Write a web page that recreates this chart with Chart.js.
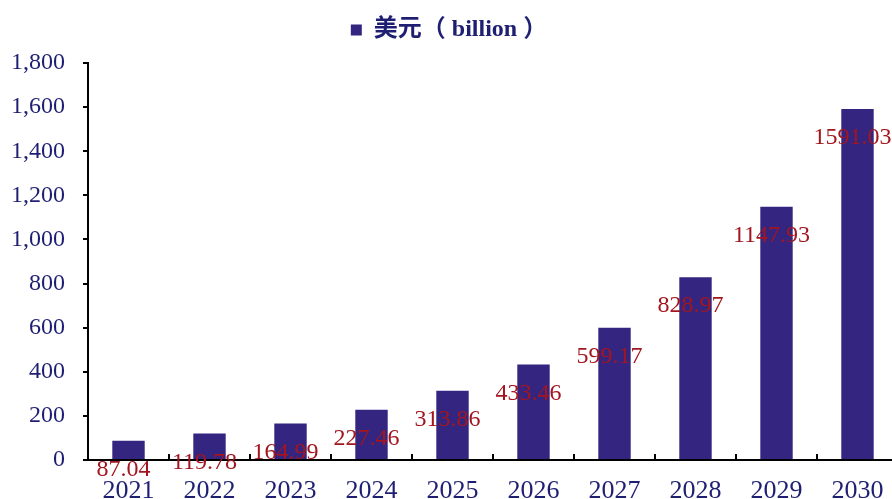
<!DOCTYPE html>
<html lang="zh">
<head>
    <meta charset="UTF-8">
    <title>美元（billion）</title>
    <script src="https://cdn.jsdelivr.net/npm/chart.js"></script>
    <style>
        html, body { margin: 0; padding: 0; overflow: hidden; background: #fff; }
        #wrap { width: 900px; height: 499px; }
    </style>
</head>
<body>
<div id="wrap">
    <canvas id="salesChart" width="900" height="499"></canvas>
</div>

<script>
    const years = ["2021", "2022", "2023", "2024", "2025", "2026", "2027", "2028", "2029", "2030"];
    const usdBillion = [87.04, 119.78, 164.99, 227.46, 313.86, 433.46, 599.17, 828.97, 1147.93, 1591.03];
    const seriesName = "美元（ billion ）";
    const yMax = 1800;
    const yStep = 200;

    const barColor = '#332580';
    const labelColor = '#a3161f';
    const tickColor = '#1e1e72';
    const serif = "'Liberation Serif', 'Times New Roman', 'Noto Sans CJK SC', serif";

    // red value labels sitting just under the top of each bar
    const valueLabels = {
        id: 'valueLabels',
        afterDatasetsDraw(chart) {
            const ctx = chart.ctx;
            const meta = chart.getDatasetMeta(0);
            ctx.save();
            ctx.font = '24px ' + serif;
            ctx.fillStyle = labelColor;
            ctx.textAlign = 'center';
            ctx.textBaseline = 'middle';
            meta.data.forEach((bar, i) => {
                ctx.fillText(usdBillion[i].toFixed(2), bar.x - 5, bar.y + 29);
            });
            ctx.restore();
        }
    };

    // small inward tick marks between categories on the x axis
    const innerTicks = {
        id: 'innerTicks',
        afterDraw(chart) {
            const x = chart.scales.x;
            const ctx = chart.ctx;
            const step = x.getPixelForValue(1) - x.getPixelForValue(0);
            ctx.save();
            ctx.strokeStyle = '#000';
            ctx.lineWidth = 2;
            for (let i = 1; i <= years.length; i++) {
                const px = x.getPixelForValue(i) - step / 2;
                ctx.beginPath();
                ctx.moveTo(px, x.top);
                ctx.lineTo(px, x.top - 6);
                ctx.stroke();
            }
            ctx.restore();
        }
    };

    // extra room under the legend, before the plot starts
    const legendGap = {
        id: 'legendGap',
        afterInit(chart) {
            const legend = chart.legend;
            const fit = legend.fit;
            legend.fit = function () {
                fit.call(this);
                this.height += 11;
            };
        }
    };

    const ctx = document.getElementById('salesChart').getContext('2d');
    new Chart(ctx, {
        type: 'bar',
        data: {
            labels: years,
            datasets: [{
                label: seriesName,
                data: usdBillion,
                backgroundColor: barColor,
                borderWidth: 0,
                barPercentage: 0.8,
                categoryPercentage: 0.5
            }]
        },
        options: {
            responsive: false,
            animation: false,
            layout: { padding: { top: 8, right: 2, bottom: 0, left: 0 } },
            plugins: {
                tooltip: { enabled: false },
                legend: {
                    display: true,
                    position: 'top',
                    labels: {
                        boxWidth: 11,
                        boxHeight: 11,
                        padding: 10,
                        color: tickColor,
                        font: { family: serif, size: 24, weight: 'bold' }
                    }
                }
            },
            scales: {
                x: {
                    grid: { display: false, drawTicks: false },
                    border: { color: '#000', width: 2 },
                    ticks: {
                        color: tickColor,
                        padding: 16,
                        font: { family: serif, size: 26 }
                    },
                    afterFit(scale) { scale.height = 39; }
                },
                y: {
                    min: 0,
                    max: yMax,
                    grid: { drawOnChartArea: false, drawTicks: true, tickLength: 5, color: '#000', lineWidth: 2 },
                    border: { color: '#000', width: 2 },
                    ticks: {
                        stepSize: yStep,
                        color: tickColor,
                        padding: 18,
                        font: { family: serif, size: 24 },
                        callback: v => v.toLocaleString('en-US')
                    },
                    afterFit(scale) { scale.width = 88; }
                }
            }
        },
        plugins: [valueLabels, innerTicks, legendGap]
    });
</script>
</body>
</html>
